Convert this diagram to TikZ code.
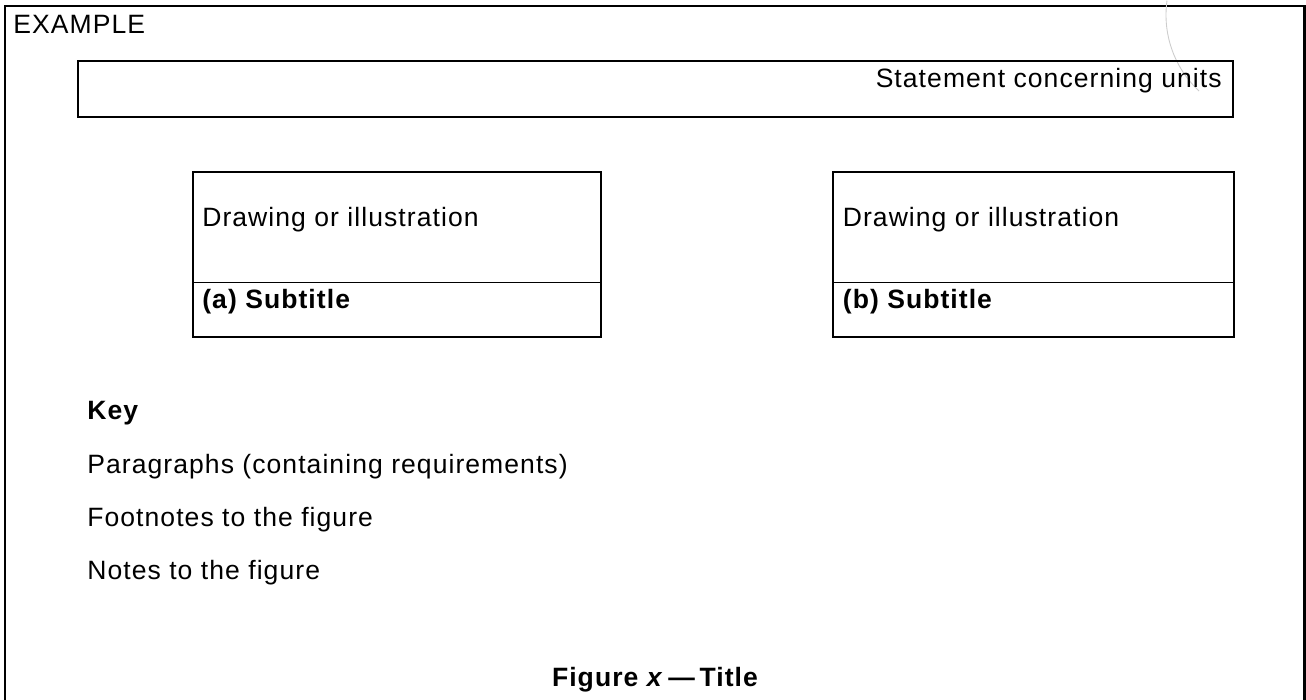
\documentclass[tikz,border=0pt]{standalone}
\usepackage{fontspec}
\setmainfont{Liberation Sans}[LetterSpace=4]
\usepackage{tikz}

\begin{document}
\begin{tikzpicture}[x=0.02cm,y=-0.02cm,
  frame/.style={line width=1.3pt},
  rule/.style={line width=0.9pt},
  arcline/.style={line width=0.5pt,color=black!20},
  txt/.style={inner sep=0pt,anchor=base west,font=\fontsize{15.1}{18}\selectfont},
  bold/.style={txt,font=\fontsize{15.1}{18}\selectfont\bfseries}]
\useasboundingbox (0,0) rectangle (1306,700);
% outer frame, open at the bottom
\draw[frame] (5,700) |- (1304.5,6) -- (1304.5,700);
\draw[arcline] (1270,15) ++(188:104) arc[start angle=188, end angle=133, radius=104];
\node[txt] (example) at (13,33) {EXAMPLE};
% units
\draw[frame] (78,61) rectangle (1233,117);
\node[txt,anchor=base east] (units) at (1222,87) {Statement concerning units};
% panel a
\draw[frame] (193,172) rectangle (601,337);
\draw[rule] (193,282.5) -- (601,282.5);
\node[txt] (drawa) at (202,226) {Drawing or illustration};
\node[bold] (suba) at (202,308) {(a) Subtitle};
% panel b
\draw[frame] (833,172) rectangle (1234,337);
\draw[rule] (833,282.5) -- (1234,282.5);
\node[txt] (drawb) at (842.5,226) {Drawing or illustration};
\node[bold] (subb) at (842.5,308) {(b) Subtitle};
% key
\node[bold] (key) at (87,419) {Key};
\node[txt] (paras) at (87,473) {Paragraphs (containing requirements)};
\node[txt] (foot) at (87,526) {Footnotes to the figure};
\node[txt] (notes) at (87,579) {Notes to the figure};
\node[bold,anchor=base] (title) at (655,686) {Figure \textit{x}\hspace{0.18em}---\hspace{0.18em}Title};
\end{tikzpicture}
\end{document}
